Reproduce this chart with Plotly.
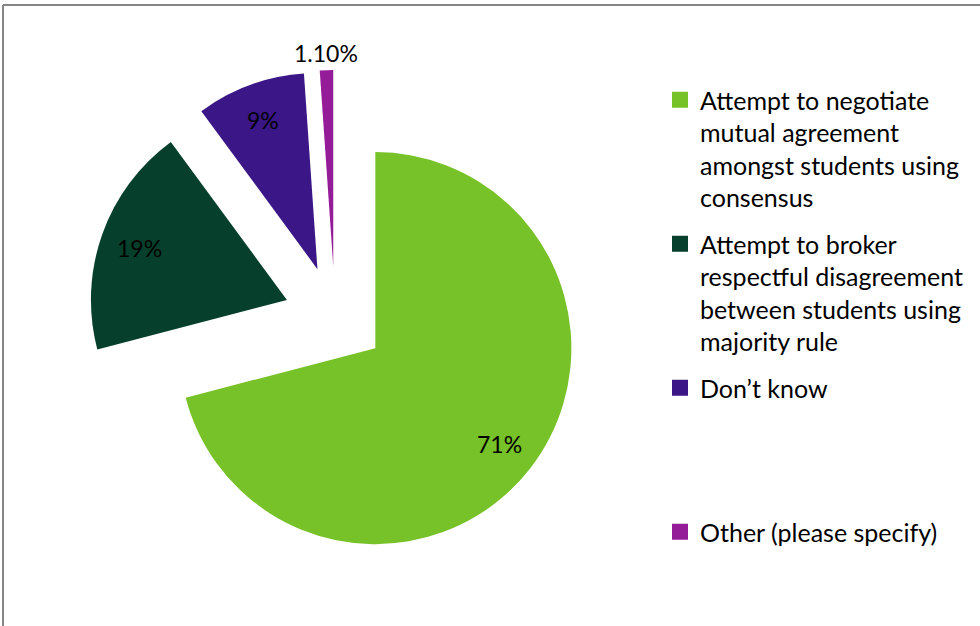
import math
import plotly.graph_objects as go

# Survey responses: how facilitators handle disagreement among students
categories = [
    "Attempt to negotiate mutual agreement amongst students using consensus",
    "Attempt to broker respectful disagreement between students using majority rule",
    "Don\u2019t know",
    "Other (please specify)",
]
legend_labels = [
    "Attempt to negotiate<br>mutual agreement<br>amongst students using<br>consensus",
    "Attempt to broker<br>respectful disagreement<br>between students using<br>majority rule",
    "Don\u2019t know<br> <br> <br> ",
    "Other (please specify)",
]
shares = [71, 19, 9, 1.1]
share_decimals = [0, 0, 0, 2]
colors = ["#76C228", "#06402C", "#3B1686", "#951C98"]

# label distance from the (pulled) slice tip, as a fraction of the radius
label_radius = [0.80, 0.80, 0.81, 1.09]

FONT = "Lato, Carlito, Calibri, sans-serif"
W, H = 980, 626
PULL = 0.26
DOM_X = [88 / W, 582 / W]
DOM_Y = [62 / H, 556 / H]

slice_text = [f"{v:.{d}f}%" for v, d in zip(shares, share_decimals)]

fig = go.Figure()

fig.add_trace(go.Pie(
    labels=categories,
    values=shares,
    textinfo="none",
    marker=dict(colors=colors, line=dict(width=0)),
    pull=[PULL] * len(shares),
    sort=False,
    direction="clockwise",
    rotation=0,
    showlegend=False,
    hoverinfo="label+percent",
    domain=dict(x=DOM_X, y=DOM_Y),
))

# Percentage labels placed along each slice's bisector
# (same geometry the pie trace uses: centre of domain, r = half side / (1 + pull))
cx = (DOM_X[0] + DOM_X[1]) / 2 * W
cy = (1 - (DOM_Y[0] + DOM_Y[1]) / 2) * H
r = min((DOM_X[1] - DOM_X[0]) * W, (DOM_Y[1] - DOM_Y[0]) * H) / 2 / (1 + PULL)
total = sum(shares)
start = 0.0
annotations = []
for val, txt, frac in zip(shares, slice_text, label_radius):
    mid = (start + val / 2) / total * 2 * math.pi  # clockwise from 12 o'clock
    start += val
    dist = r * (PULL + frac)
    px = cx + dist * math.sin(mid)
    py = cy - dist * math.cos(mid)
    annotations.append(dict(
        x=px / W, y=1 - py / H, xref="paper", yref="paper",
        text=txt, showarrow=False, xanchor="center", yanchor="middle",
        font=dict(family=FONT, size=23, color="#000000"),
    ))

# Legend entries (one group per category so the spacing can be set)
for i, (lab, col) in enumerate(zip(legend_labels, colors)):
    fig.add_trace(go.Scatter(
        x=[None], y=[None],
        mode="markers",
        name=lab,
        legendgroup=f"g{i}",
        marker=dict(symbol="square", size=16, color=col),
        showlegend=True,
        hoverinfo="skip",
    ))

fig.update_layout(
    width=W,
    height=H,
    margin=dict(l=0, r=0, t=0, b=0, autoexpand=False),
    paper_bgcolor="#FFFFFF",
    plot_bgcolor="#FFFFFF",
    font=dict(family=FONT, size=23, color="#000000"),
    xaxis=dict(visible=False),
    yaxis=dict(visible=False),
    showlegend=True,
    legend=dict(
        x=660 / W,
        y=1 - 77 / H,
        xanchor="left",
        yanchor="top",
        valign="top",
        tracegroupgap=11,
        font=dict(family=FONT, size=25, color="#000000"),
        bgcolor="rgba(0,0,0,0)",
    ),
    annotations=annotations,
    shapes=[
        dict(type="line", xref="paper", yref="paper",
             x0=3 / W, x1=1, y0=1 - 5 / H, y1=1 - 5 / H,
             line=dict(color="#868686", width=2)),
        dict(type="line", xref="paper", yref="paper",
             x0=3 / W, x1=3 / W, y0=0, y1=1 - 5 / H,
             line=dict(color="#868686", width=2)),
    ],
)

fig.write_html("out.html")
